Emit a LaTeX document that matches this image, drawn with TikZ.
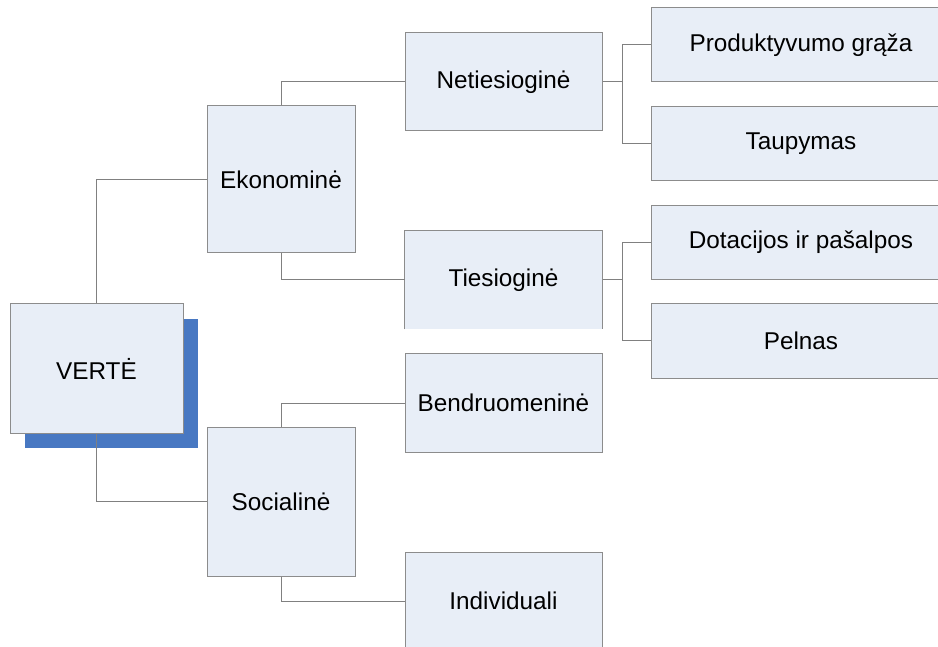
\documentclass[tikz,border=0pt]{standalone}
\usepackage{fontspec}
\setmainfont{Liberation Sans}
\usetikzlibrary{shadows}
\definecolor{boxfill}{RGB}{232,238,247}
\definecolor{boxline}{RGB}{140,140,140}
\definecolor{linkline}{RGB}{128,128,128}
\definecolor{shadowblue}{RGB}{72,120,194}
\tikzset{
  box/.style={rectangle, draw=boxline, fill=boxfill, line width=1pt, inner sep=0pt,
    font=\fontsize{24.3}{28}\selectfont},
  link/.style={draw=linkline, line width=1pt}
}
\begin{document}
\begin{tikzpicture}[x=1pt, y=-1pt]
  \useasboundingbox (0,0) rectangle (938,647);
  \clip (0,0) rectangle (938,647);

  % root
  \node[box, minimum width=173pt, minimum height=129pt,
    general shadow={fill=shadowblue, shadow xshift=15pt, shadow yshift=-15pt}]
    (verte) at (96.5,368.5) {VERTĖ};

  % second level
  \node[box, minimum width=148pt, minimum height=147pt] (ekon) at (281,179.5) {Ekonominė};
  \node[box, minimum width=148pt, minimum height=149pt] (soc) at (281,501.5) {Socialinė};

  % third level
  \node[box, minimum width=197pt, minimum height=98pt] (netie) at (503.5,82) {Netiesioginė};
  \node[box, draw=none, minimum width=197pt, minimum height=98pt] (tie) at (503.5,280) {Tiesioginė};
  \draw[boxline, line width=1pt] (tie.south west) -- (tie.north west) -- (tie.north east) -- (tie.south east);
  \node[box, minimum width=197pt, minimum height=98pt] (bendr) at (503.5,403) {Bendruomeninė};
  \node[box, minimum width=197pt, minimum height=98pt] (indiv) at (503.5,601) {Individuali};

  % leaves
  \node[box, minimum width=300pt, minimum height=74pt] (prod) at (801,45) {Produktyvumo grąža};
  \node[box, minimum width=300pt, minimum height=74pt] (taup) at (801,143.5) {Taupymas};
  \node[box, minimum width=300pt, minimum height=74pt] (dotac) at (801,242.5) {Dotacijos ir pašalpos};
  \node[box, minimum width=300pt, minimum height=74pt] (peln) at (801,341) {Pelnas};

  % connectors
  \draw[link] (verte.north) |- (ekon.west);
  \draw[link] (verte.south) |- (soc.west);
  \draw[link] (ekon.north) |- (netie.west);
  \draw[link] (ekon.south) |- (tie.west);
  \draw[link] (soc.north) |- (bendr.west);
  \draw[link] (soc.south) |- (indiv.west);

  \coordinate (netjoin) at ([xshift=20pt]netie.east);
  \coordinate (tiejoin) at ([xshift=20pt]tie.east);
  \draw[link] (netie.east) -- (netjoin);
  \foreach \leaf in {prod,taup} {
    \draw[link] (netjoin) |- (\leaf.west);
  }
  \draw[link] (tie.east) -- (tiejoin);
  \foreach \leaf in {dotac,peln} {
    \draw[link] (tiejoin) |- (\leaf.west);
  }
\end{tikzpicture}
\end{document}
